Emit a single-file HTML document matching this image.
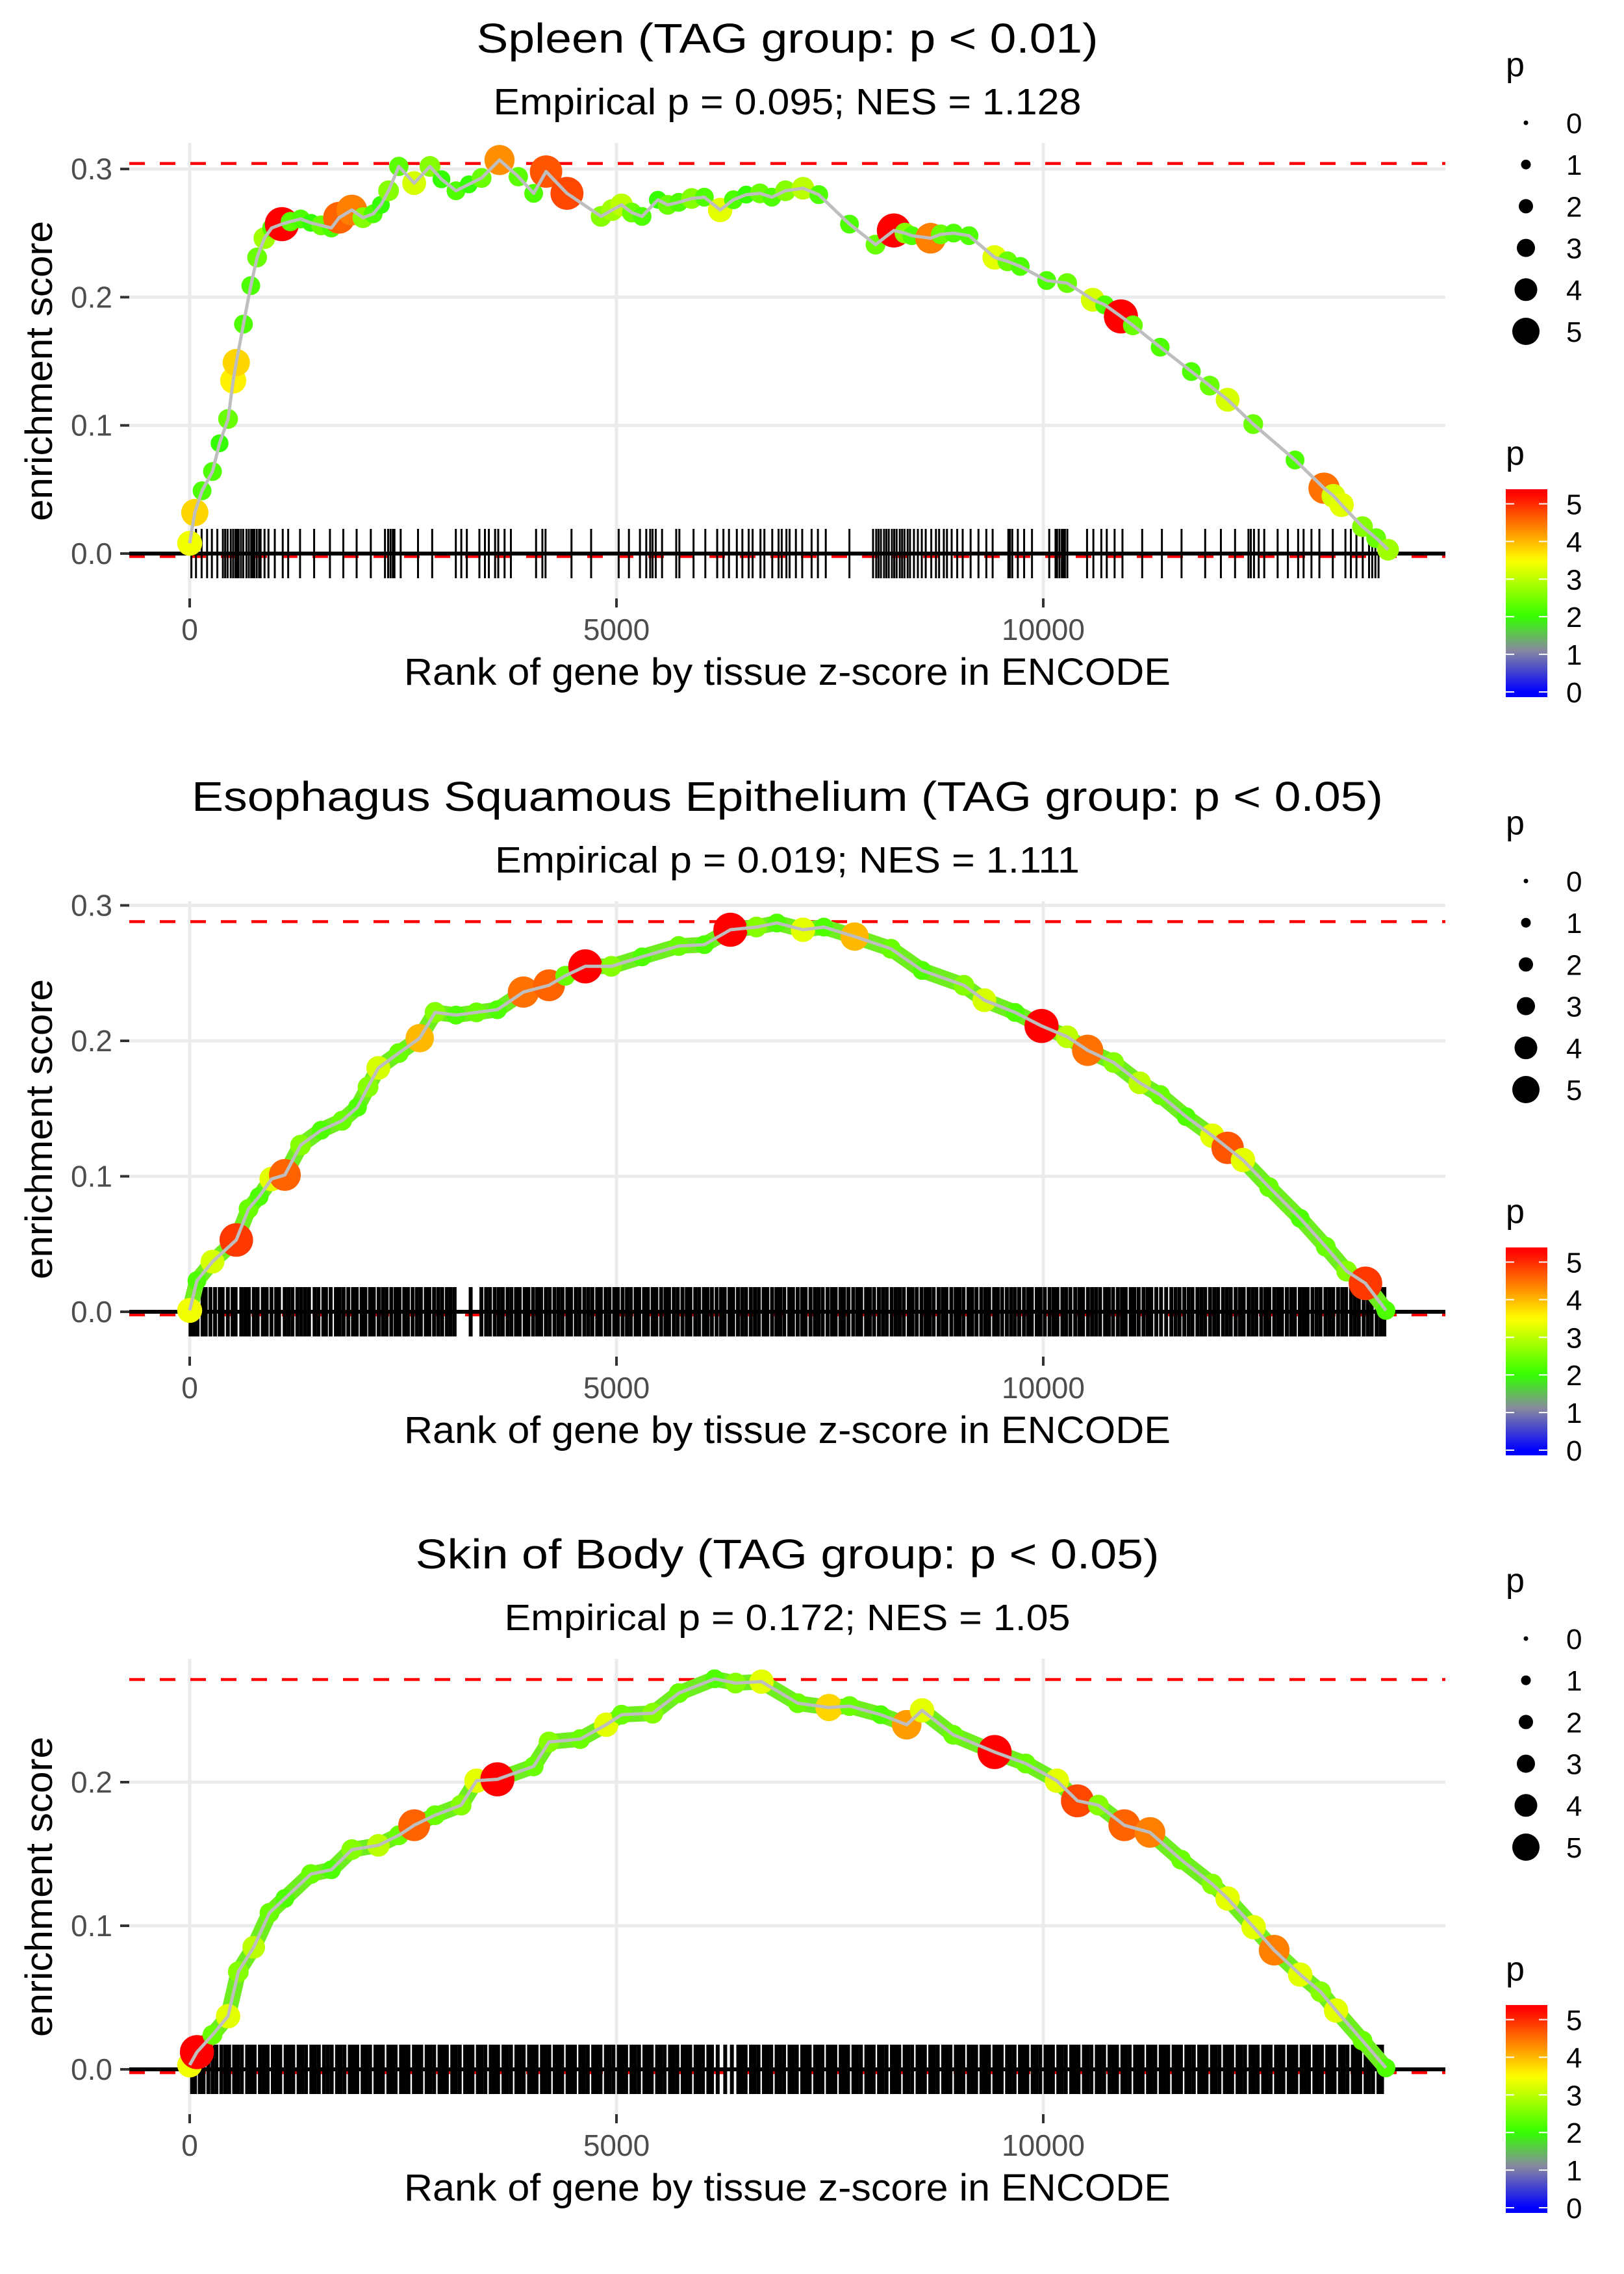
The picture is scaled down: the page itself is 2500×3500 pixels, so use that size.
<!DOCTYPE html>
<html>
<head>
<meta charset="utf-8">
<title>Enrichment plots</title>
<style>
html,body{margin:0;padding:0;background:#fff;}
svg{display:block;font-family:"Liberation Sans",Arial,sans-serif;}
</style>
</head>
<body>
<svg id="chart" xmlns="http://www.w3.org/2000/svg" width="2500" height="3500" viewBox="0 0 2500 3500">
<rect x="0" y="0" width="2500" height="3500" fill="#ffffff"/>
</svg>
<script>
// ---------- data ----------
const titles = ["Spleen (TAG group: p < 0.01)", "Esophagus Squamous Epithelium (TAG group: p < 0.05)", "Skin of Body (TAG group: p < 0.05)"];
const subtitles = ["Empirical p = 0.095; NES = 1.128", "Empirical p = 0.019; NES = 1.111", "Empirical p = 0.172; NES = 1.05"];
const xTicks = [0, 5000, 10000];
const xTickLabels = ["0", "5000", "10000"];
const yTicks1 = [0, 0.1, 0.2, 0.3];
const yTicks2 = [0, 0.1, 0.2, 0.3];
const yTicks3 = [0, 0.1, 0.2];
const yTickLabels1 = ["0.0", "0.1", "0.2", "0.3"];
const yTickLabels2 = ["0.0", "0.1", "0.2", "0.3"];
const yTickLabels3 = ["0.0", "0.1", "0.2"];
const maxES = [0.3043, 0.288, 0.2715];
const minES = [-0.0023, -0.0023, -0.0023];
const legendValues = [0, 1, 2, 3, 4, 5];
const legendLabels = ["0", "1", "2", "3", "4", "5"];

const rank1 = [0,60,145,267,350,450,510,546,630,716,790,875,960,1080,1180,1300,1420,1540,1660,1750,1900,2030,2150,2240,2330,2450,2630,2815,2950,3120,3270,3420,3630,3850,4030,4175,4420,4820,4950,5060,5180,5300,5485,5600,5730,5880,6030,6215,6370,6520,6680,6820,6980,7185,7370,7730,8035,8250,8380,8460,8680,8800,8950,9130,9430,9580,9730,10040,10280,10580,10720,10910,11050,11370,11735,11950,12160,12460,12950,13290,13400,13495,13740,13900,14040];
const es1 = [.008,.032,.049,.064,.086,.105,.135,.149,.179,.209,.231,.246,.254,.257,.259,.261,.258,.256,.254,.262,.268,.262,.265,.272,.283,.302,.289,.302,.292,.283,.288,.293,.307,.294,.281,.298,.281,.263,.268,.272,.266,.263,.276,.272,.274,.277,.278,.268,.276,.280,.281,.278,.283,.285,.280,.257,.241,.252,.250,.248,.246,.249,.250,.248,.231,.228,.224,.213,.211,.198,.194,.185,.178,.161,.142,.131,.120,.101,.073,.051,.045,.038,.021,.012,.003];
const pv1 = [3.4,3.8,2.2,2.2,2.0,2.4,3.6,3.8,2.2,2.2,2.4,2.8,2.2,5.3,2.3,2.2,2.0,2.4,2.2,4.6,4.4,2.6,2.2,2.0,2.6,2.3,3.2,2.6,2.0,2.2,2.0,2.4,4.3,2.3,2.2,4.7,4.8,2.6,2.8,3.0,2.4,2.2,2.0,2.4,2.2,2.6,2.2,3.3,2.2,2.0,2.4,2.2,2.6,3.0,2.2,2.2,2.4,5.3,2.6,2.2,4.4,2.4,2.2,2.2,3.3,2.4,2.2,2.2,2.4,3.2,2.2,5.3,2.4,2.2,2.2,2.4,3.2,2.4,2.2,4.5,3.2,3.3,2.6,2.4,2.8];

const rank2 = [0,85,267,546,690,813,960,1115,1300,1540,1785,1966,2090,2210,2450,2695,2875,3120,3360,3605,3910,4210,4400,4635,4940,5300,5730,6030,6335,6640,6880,7185,7430,7790,8215,8580,9070,9310,9670,9980,10280,10520,10825,11130,11370,11675,11980,12160,12340,12645,13010,13310,13555,13775,14015];
const es2 = [.001,.023,.037,.053,.076,.085,.098,.101,.123,.134,.141,.151,.166,.180,.191,.202,.221,.219,.221,.223,.236,.241,.248,.255,.255,.262,.270,.271,.282,.284,.287,.282,.284,.277,.268,.252,.241,.230,.221,.211,.203,.193,.184,.169,.160,.144,.130,.121,.112,.092,.069,.048,.030,.021,.001];
const pv2 = [3.4,2.2,3.2,4.9,2.4,2.2,3.3,4.6,2.6,2.2,2.4,2.2,2.6,3.2,2.4,4.0,2.6,2.2,2.4,2.2,4.5,4.6,2.4,5.3,2.6,2.2,2.4,2.2,5.3,2.6,2.2,3.3,2.2,4.0,2.4,2.2,2.6,3.2,2.2,5.3,3.0,4.5,2.6,3.0,2.4,2.2,3.3,4.7,3.3,2.4,2.2,2.4,2.6,4.9,2.2];

const rank3 = [0,85,267,450,570,750,935,1115,1420,1660,1900,2210,2450,2630,2875,3180,3360,3605,4030,4210,4575,4880,5060,5425,5730,6150,6395,6700,7125,7490,7730,8095,8400,8580,8945,9430,9795,10160,10400,10645,10950,11250,11615,11980,12160,12465,12705,13010,13250,13430,13740,14015];
const es3 = [.003,.012,.024,.037,.068,.085,.109,.119,.136,.139,.153,.156,.163,.170,.177,.184,.201,.202,.211,.228,.230,.240,.247,.248,.262,.272,.269,.270,.255,.252,.253,.247,.240,.250,.233,.221,.213,.201,.187,.184,.170,.165,.146,.129,.119,.099,.083,.066,.054,.041,.020,.001];
const pv3 = [3.4,5.3,2.4,3.3,2.6,3.0,2.4,2.2,2.4,2.2,2.6,3.0,2.4,4.6,2.4,2.6,3.3,5.3,2.4,2.6,2.4,3.3,2.4,2.6,2.4,2.2,2.6,3.3,2.4,3.8,2.4,2.2,4.2,3.3,2.4,5.3,2.4,3.3,4.8,2.6,4.6,4.4,2.4,2.6,3.3,3.3,4.4,3.3,2.6,3.3,2.4,2.2];

const rug1 = [20,74,140,204,260,324,389,416,444,481,509,536,555,573,601,628,665,693,721,739,757,785,813,831,877,923,997,1090,1154,1293,1458,1643,1800,1956,2122,2288,2325,2353,2380,2399,2472,2675,2841,3118,3182,3247,3394,3459,3505,3578,3615,3689,3763,4058,4132,4169,4473,4703,5026,5146,5275,5349,5395,5423,5460,5534,5700,5737,5903,6041,6180,6253,6318,6410,6475,6549,6595,6687,6733,6825,6899,6936,6991,7028,7102,7176,7286,7360,7452,7729,8006,8043,8070,8098,8135,8162,8190,8227,8254,8282,8319,8346,8374,8411,8439,8485,8531,8577,8623,8688,8743,8780,8835,8872,8927,8992,9056,9149,9241,9333,9407,9591,9610,9637,9702,9776,9868,10070,10144,10162,10190,10218,10236,10254,10282,10513,10587,10680,10744,10836,10928,11159,11390,11620,11897,12081,12247,12404,12432,12469,12524,12589,12746,12866,12986,13050,13142,13235,13392,13540,13604,13669,13743,13817,13854,13891,13928];

const rug2 = [10,48,92,151,188,243,297,352,386,447,503,538,604,648,693,751,796,857,902,958,1013,1047,1113,1158,1204,1262,1307,1353,1398,1463,1508,1566,1597,1652,1713,1757,1804,1858,1913,1957,2014,2058,2113,2157,2214,2263,2307,2362,2413,2458,2514,2557,2612,2663,2708,2766,2808,2863,2912,2958,3013,3058,3104,3292,3417,3473,3518,3574,3622,3668,3724,3769,3823,3866,3924,3968,4023,4072,4117,4173,4218,4274,4322,4368,4424,4467,4523,4568,4624,4671,4718,4774,4817,4873,4918,4974,5017,5072,5123,5168,5224,5266,5323,5368,5424,5467,5523,5574,5616,5672,5718,5773,5824,5866,5923,5968,6024,6068,6118,6173,6224,6268,6324,6367,6423,6472,6518,6574,6622,6668,6724,6767,6823,6874,6918,6966,7024,7068,7123,7174,7216,7273,7324,7368,7416,7473,7523,7568,7624,7667,7718,7774,7823,7866,7924,7968,8018,8074,8122,8167,8224,8272,8318,8366,8424,8468,8518,8574,8623,8668,8716,8774,8822,8866,8923,8974,9018,9066,9124,9168,9218,9274,9322,9366,9424,9468,9518,9573,9622,9668,9718,9774,9823,9866,9924,9968,10018,10074,10122,10166,10224,10268,10318,10374,10423,10466,10524,10572,10618,10666,10724,10768,10818,10874,10922,10966,11024,11068,11118,11174,11222,11266,11324,11380,11440,11500,11550,11597,11652,11703,11748,11806,11852,11897,11954,12003,12048,12106,12152,12197,12254,12303,12348,12406,12452,12497,12554,12603,12648,12706,12752,12797,12854,12903,12948,13006,13052,13097,13154,13203,13248,13306,13352,13397,13454,13503,13548,13606,13652,13697,13754,13803,13848,13906,13952,13996];

const rug3 = [28,63,118,162,219,268,313,371,418,462,521,566,611,673,716,761,823,868,913,974,1016,1061,1124,1168,1213,1276,1318,1363,1425,1468,1513,1574,1619,1664,1726,1768,1813,1876,1919,1963,2026,2069,2113,2176,2219,2263,2327,2369,2413,2476,2519,2563,2627,2669,2713,2776,2819,2864,2927,2969,3013,3076,3119,3164,3227,3269,3313,3376,3419,3464,3527,3569,3613,3676,3719,3764,3827,3869,3913,3976,4019,4064,4127,4169,4213,4276,4319,4364,4427,4469,4513,4576,4619,4664,4727,4769,4813,4876,4919,4964,5027,5069,5113,5176,5219,5264,5327,5369,5413,5476,5519,5564,5627,5669,5713,5776,5819,5864,5927,5969,6013,6076,6119,6186,6274,6352,6427,6469,6513,6576,6619,6664,6727,6769,6813,6876,6919,6964,7027,7069,7113,7176,7219,7264,7327,7369,7413,7476,7519,7564,7627,7669,7713,7776,7819,7864,7927,7969,8013,8076,8119,8164,8227,8269,8313,8376,8419,8464,8527,8569,8613,8676,8719,8764,8827,8869,8913,8976,9019,9064,9127,9169,9213,9276,9319,9364,9427,9469,9513,9576,9619,9664,9727,9769,9813,9876,9919,9964,10027,10069,10113,10176,10219,10264,10327,10369,10413,10476,10519,10564,10627,10669,10713,10776,10819,10864,10927,10969,11013,11076,11119,11164,11227,11269,11313,11376,11419,11464,11527,11569,11613,11676,11719,11764,11827,11869,11913,11976,12019,12064,12127,12169,12213,12276,12319,12364,12427,12469,12513,12576,12619,12664,12727,12769,12813,12876,12919,12964,13027,13069,13113,13176,13219,13264,13327,13369,13413,13476,13519,13564,13627,13669,13713,13776,13819,13864,13927,13969];

// ---------- helpers ----------
const NS = "http://www.w3.org/2000/svg";
const svg = document.getElementById("chart");
function mk(tag, attrs, parent) {
  const e = document.createElementNS(NS, tag);
  for (const k in attrs) e.setAttribute(k, attrs[k]);
  (parent || svg).appendChild(e);
  return e;
}
const X0 = 292, XPX = 0.1314, Y0 = 852;
const PL = 199, PR = 2225, PT = 220, PB = 921;
function xs(r) { return X0 + r * XPX; }
const stops = [[0,[0,0,255]],[1.1,[136,136,160]],[2,[51,255,0]],[3.5,[255,255,0]],[5.3,[255,0,0]]];
function colorOf(p) {
  if (p <= stops[0][0]) return "rgb(0,0,255)";
  for (let i = 1; i < stops.length; i++) {
    if (p <= stops[i][0]) {
      const a = stops[i-1], b = stops[i], t = (p - a[0]) / (b[0] - a[0]);
      const c = a[1].map((v, j) => Math.round(v + (b[1][j] - v) * t));
      return "rgb(" + c.join(",") + ")";
    }
  }
  return "rgb(255,0,0)";
}
const radii = [3.5, 7.5, 11, 14, 17.5, 21];
function radiusOf(p) {
  const q = Math.max(0, Math.min(5, p));
  const i = Math.min(4, Math.floor(q));
  return radii[i] + (radii[i+1] - radii[i]) * (q - i);
}

const panels = [
  {off: 0, pxu: 1973, yTicks: yTicks1, yLabels: yTickLabels1, rank: rank1, es: es1, pv: pv1, rug: rug1, rugW: 3, band: false, tw: 957, sw: 905},
  {off: 1167, pxu: 2085, yTicks: yTicks2, yLabels: yTickLabels2, rank: rank2, es: es2, pv: pv2, rug: rug2, rugW: 6, band: true, tw: 1834, sw: 900},
  {off: 2333, pxu: 2210, yTicks: yTicks3, yLabels: yTickLabels3, rank: rank3, es: es3, pv: pv3, rug: rug3, rugW: 6, band: true, tw: 1145, sw: 871}
];

panels.forEach((P, k) => {
  const g = mk("g", {transform: "translate(0," + P.off + ")"});
  
  
  const ys = v => Y0 - v * P.pxu;

  const t = mk("text", {x: 1212, y: 81, "font-size": 64, "text-anchor": "middle", textLength: P.tw, lengthAdjust: "spacingAndGlyphs", fill: "#000"}, g);
  t.textContent = titles[k];
  
  
  const st = mk("text", {x: 1212, y: 176, "font-size": 57, "text-anchor": "middle", textLength: P.sw, lengthAdjust: "spacingAndGlyphs", fill: "#000"}, g);
  st.textContent = subtitles[k];
  
  

  xTicks.forEach((v) => {
    const l = mk("line", {x1: xs(v), x2: xs(v), y1: PT, y2: PB, stroke: "#ebebeb", "stroke-width": 5}, g);
    
    
  });
  P.yTicks.forEach((v) => {
    const l = mk("line", {x1: PL, x2: PR, y1: ys(v), y2: ys(v), stroke: "#ebebeb", "stroke-width": 5}, g);
    
    
  });

  P.yTicks.forEach((v, i) => {
    const tm = mk("line", {x1: 185, x2: 199, y1: ys(v), y2: ys(v), stroke: "#333", "stroke-width": 4}, g);
    
    
    const tl = mk("text", {x: 173, y: ys(v) + 16, "font-size": 46, "text-anchor": "end", fill: "#4d4d4d"}, g);
    tl.textContent = P.yLabels[i];
    
    
  });
  xTicks.forEach((v, i) => {
    const tm = mk("line", {x1: xs(v), x2: xs(v), y1: PB, y2: PB + 14, stroke: "#333", "stroke-width": 4}, g);
    
    
    const tl = mk("text", {x: xs(v), y: 985, "font-size": 46, "text-anchor": "middle", fill: "#4d4d4d"}, g);
    tl.textContent = xTickLabels[i];
    
    
  });
  const xt = mk("text", {x: 1212, y: 1054, "font-size": 58, "text-anchor": "middle", textLength: 1180, lengthAdjust: "spacingAndGlyphs", fill: "#000"}, g);
  xt.textContent = "Rank of gene by tissue z-score in ENCODE";
  
  
  const yt = mk("text", {transform: "translate(80,571) rotate(-90)", x: 0, y: 0, "font-size": 58, "text-anchor": "middle", textLength: 462, lengthAdjust: "spacingAndGlyphs", fill: "#000"}, g);
  yt.textContent = "enrichment score";
  
  

  const dmax = mk("line", {x1: PL, x2: PR, y1: ys(maxES[k]), y2: ys(maxES[k]), stroke: "#ff0000", "stroke-width": 4.5, "stroke-dasharray": "24 23"}, g);
  
  
  const dmin = mk("line", {x1: PL, x2: PR, y1: ys(minES[k]), y2: ys(minES[k]), stroke: "#ff0000", "stroke-width": 4.5, "stroke-dasharray": "24 23"}, g);
  
  

  P.rug.forEach((r) => {
    const l = mk("line", {x1: xs(r), x2: xs(r), y1: 814, y2: 890, stroke: "#000", "stroke-width": P.rugW}, g);
    
    
  });
  const zl = mk("line", {x1: PL, x2: PR, y1: ys(0), y2: ys(0), stroke: "#000", "stroke-width": 6}, g);
  
  

  const pts = P.rank.map((r, i) => xs(r).toFixed(1) + "," + ys(P.es[i]).toFixed(1)).join(" ");
  if (P.band) {
    const b = mk("polyline", {points: pts, fill: "none", stroke: "#6fee1f", "stroke-width": 24, "stroke-linejoin": "round", "stroke-linecap": "round"}, g);
    
    
  }
  P.rank.forEach((r, i) => {
    const c = mk("circle", {cx: xs(r), cy: ys(P.es[i]), r: radiusOf(P.pv[i]) * 1.25, fill: colorOf(P.pv[i])}, g);
    
    
  });
  const ln = mk("polyline", {points: pts, fill: "none", stroke: "#bebebe", "stroke-width": 5, "stroke-linejoin": "round"}, g);
  
  

  const sl = mk("g", {}, g);
  
  
  const slt = mk("text", {x: 2318, y: 117, "font-size": 52, fill: "#000"}, sl);
  slt.textContent = "p";
  
  
  legendValues.forEach((v, i) => {
    const cy = 189 + i * 64.2;
    const c = mk("circle", {cx: 2349, cy: cy, r: radiusOf(v), fill: "#000"}, sl);
    
    
    const lt = mk("text", {x: 2411, y: cy + 16, "font-size": 44, fill: "#000"}, sl);
    lt.textContent = legendLabels[i];
    
    
  });

  const cl = mk("g", {}, g);
  
  
  const clt = mk("text", {x: 2318, y: 715, "font-size": 52, fill: "#000"}, cl);
  clt.textContent = "p";
  
  
  const defs = mk("defs", {}, cl);
  const grad = mk("linearGradient", {id: "cg" + k, x1: 0, y1: 0, x2: 0, y2: 1}, defs);
  const vTop = 5.39, vBot = -0.14;
  for (let s = 0; s <= 40; s++) {
    const v = vTop - (vTop - vBot) * s / 40;
    mk("stop", {offset: (s / 40 * 100).toFixed(1) + "%", "stop-color": colorOf(v)}, grad);
  }
  const bar = mk("rect", {x: 2318, y: 753, width: 64, height: 320, fill: "url(#cg" + k + ")"}, cl);
  
  
  legendValues.forEach((v, i) => {
    const yy = 1065 - v * 57.9;
    mk("line", {x1: 2318, x2: 2331, y1: yy, y2: yy, stroke: "#fff", "stroke-width": 2}, cl);
    mk("line", {x1: 2369, x2: 2382, y1: yy, y2: yy, stroke: "#fff", "stroke-width": 2}, cl);
    const lt = mk("text", {x: 2411, y: yy + 16, "font-size": 44, fill: "#000"}, cl);
    lt.textContent = legendLabels[i];
    
    
  });
});
</script>
</body>
</html>
